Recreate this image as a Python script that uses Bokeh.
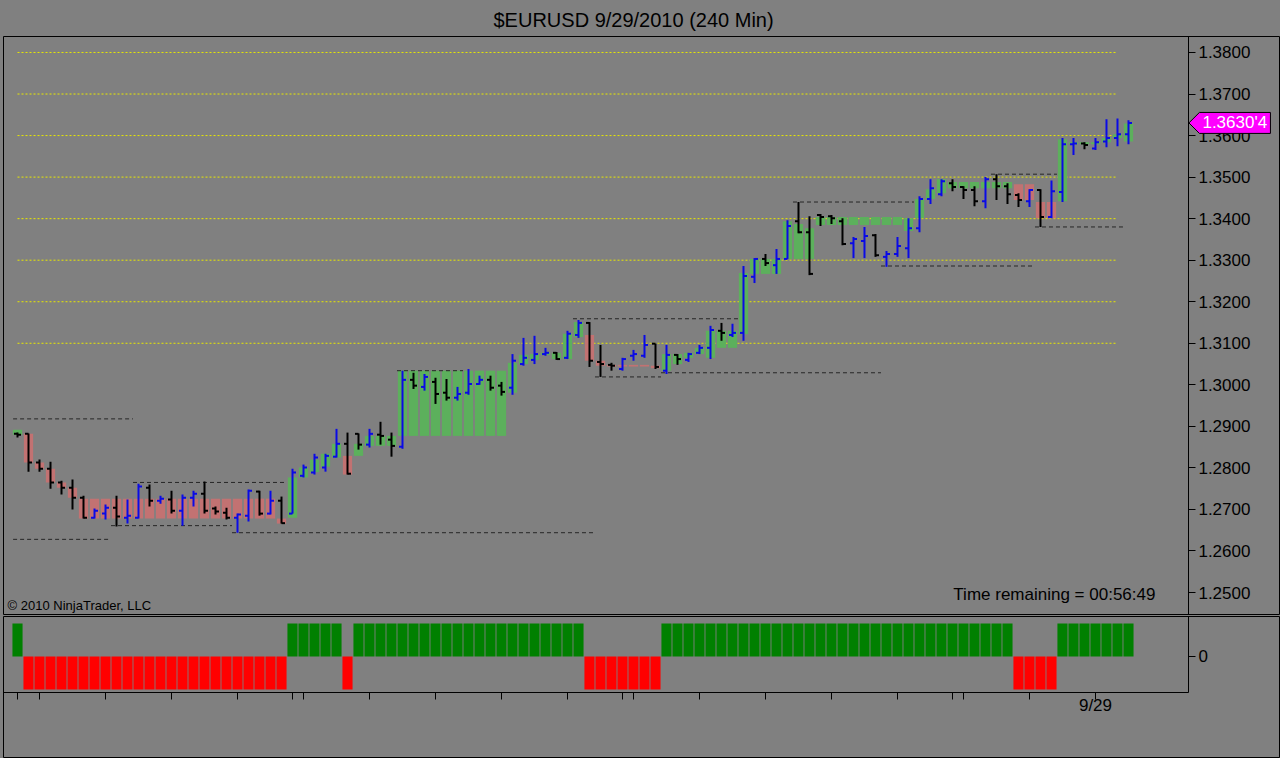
import numpy as np
from bokeh.plotting import figure
from bokeh.layouts import column
from bokeh.models import (Range1d, FixedTicker, ColumnDataSource, Label,
                          NumeralTickFormatter)
from bokeh.embed import file_html
from bokeh.resources import INLINE

# ---------------- data ----------------
title_text = "$EURUSD  9/29/2010 (240 Min)"

opens = [1.2882, 1.2882, 1.2813, 1.2798, 1.2765, 1.2752, 1.2728, 1.2680, 1.2690, 1.2704,
         1.2680, 1.2680, 1.2752, 1.2721, 1.2724, 1.2697, 1.2728, 1.2738, 1.2702, 1.2692,
         1.2680, 1.2685, 1.2743, 1.2690, 1.2721, 1.2690, 1.2781, 1.2789, 1.2801, 1.2827,
         1.2858, 1.2882, 1.2856, 1.2880, 1.2868, 1.2851, 1.3012, 1.2995, 1.3007, 1.2981,
         1.2969, 1.2981, 1.3002, 1.3012, 1.2998, 1.2993, 1.3050, 1.3060, 1.3074, 1.3077,
         1.3065, 1.3120, 1.3149, 1.3055, 1.3048, 1.3038, 1.3070, 1.3070, 1.3099, 1.3034,
         1.3072, 1.3060, 1.3077, 1.3089, 1.3130, 1.3120, 1.3125, 1.3260, 1.3303, 1.3288,
         1.3303, 1.3394, 1.3367, 1.3409, 1.3406, 1.3394, 1.3341, 1.3346, 1.3360, 1.3308,
         1.3315, 1.3329, 1.3377, 1.3447, 1.3459, 1.3485, 1.3476, 1.3469, 1.3442, 1.3495,
         1.3478, 1.3457, 1.3442, 1.3469, 1.3404, 1.3464, 1.3579, 1.3581, 1.3569, 1.3586,
         1.3594, 1.3603]
highs = [1.2885, 1.2883, 1.2820, 1.2815, 1.2769, 1.2772, 1.2733, 1.2702, 1.2712, 1.2733,
         1.2724, 1.2762, 1.2760, 1.2733, 1.2745, 1.2736, 1.2745, 1.2767, 1.2707, 1.2704,
         1.2690, 1.2748, 1.2745, 1.2745, 1.2731, 1.2798, 1.2808, 1.2834, 1.2834, 1.2894,
         1.2885, 1.2883, 1.2894, 1.2911, 1.2885, 1.3034, 1.3029, 1.3026, 1.3017, 1.3014,
         1.2995, 1.3038, 1.3022, 1.3022, 1.3007, 1.3074, 1.3113, 1.3118, 1.3089, 1.3079,
         1.3130, 1.3156, 1.3151, 1.3096, 1.3053, 1.3065, 1.3084, 1.3120, 1.3099, 1.3096,
         1.3074, 1.3077, 1.3096, 1.3142, 1.3149, 1.3147, 1.3286, 1.3305, 1.3315, 1.3327,
         1.3396, 1.3440, 1.3406, 1.3411, 1.3409, 1.3401, 1.3356, 1.3380, 1.3363, 1.3322,
         1.3356, 1.3401, 1.3454, 1.3495, 1.3495, 1.3495, 1.3478, 1.3478, 1.3500, 1.3507,
         1.3485, 1.3461, 1.3471, 1.3471, 1.3492, 1.3594, 1.3594, 1.3584, 1.3594, 1.3639,
         1.3641, 1.3637]
lows = [1.2873, 1.2791, 1.2791, 1.2750, 1.2736, 1.2700, 1.2678, 1.2678, 1.2676, 1.2659,
        1.2666, 1.2678, 1.2707, 1.2714, 1.2690, 1.2661, 1.2707, 1.2690, 1.2688, 1.2676,
        1.2644, 1.2671, 1.2685, 1.2688, 1.2666, 1.2690, 1.2777, 1.2784, 1.2791, 1.2825,
        1.2784, 1.2844, 1.2849, 1.2856, 1.2827, 1.2846, 1.2990, 1.2986, 1.2954, 1.2962,
        1.2962, 1.2976, 1.3000, 1.2986, 1.2974, 1.2976, 1.3046, 1.3050, 1.3070, 1.3060,
        1.3062, 1.3113, 1.3043, 1.3019, 1.3034, 1.3034, 1.3058, 1.3065, 1.3038, 1.3026,
        1.3048, 1.3055, 1.3074, 1.3062, 1.3106, 1.3115, 1.3106, 1.3245, 1.3286, 1.3267,
        1.3303, 1.3365, 1.3264, 1.3382, 1.3387, 1.3336, 1.3305, 1.3305, 1.3308, 1.3284,
        1.3308, 1.3305, 1.3367, 1.3435, 1.3454, 1.3466, 1.3447, 1.3430, 1.3425, 1.3445,
        1.3435, 1.3428, 1.3428, 1.3380, 1.3401, 1.3440, 1.3553, 1.3567, 1.3565, 1.3572,
        1.3574, 1.3579]
closes = [1.2880, 1.2813, 1.2798, 1.2765, 1.2752, 1.2728, 1.2680, 1.2697, 1.2704, 1.2683,
          1.2685, 1.2755, 1.2721, 1.2726, 1.2697, 1.2728, 1.2738, 1.2697, 1.2695, 1.2680,
          1.2688, 1.2745, 1.2690, 1.2721, 1.2667, 1.2789, 1.2801, 1.2825, 1.2829, 1.2858,
          1.2786, 1.2856, 1.2882, 1.2877, 1.2853, 1.3012, 1.2998, 1.3019, 1.2978, 1.2969,
          1.2978, 1.3002, 1.3012, 1.2993, 1.2983, 1.3058, 1.3065, 1.3074, 1.3077, 1.3062,
          1.3123, 1.3149, 1.3058, 1.3050, 1.3046, 1.3062, 1.3074, 1.3096, 1.3043, 1.3072,
          1.3062, 1.3074, 1.3089, 1.3132, 1.3125, 1.3125, 1.3262, 1.3303, 1.3293, 1.3303,
          1.3382, 1.3367, 1.3267, 1.3404, 1.3401, 1.3339, 1.3351, 1.3358, 1.3312, 1.3315,
          1.3334, 1.3377, 1.3447, 1.3473, 1.3490, 1.3476, 1.3469, 1.3442, 1.3495, 1.3478,
          1.3459, 1.3445, 1.3469, 1.3404, 1.3466, 1.3579, 1.3581, 1.3577, 1.3584, 1.3594,
          1.3603, 1.36304]

# trend boxes behind the bars (top / bottom price)
box_top = [1.2892, 1.2882, 1.2813, 1.2798, 1.2765, 1.2752, 1.2726, 1.2726, 1.2726, 1.2726,
           1.2726, 1.2726, 1.2726, 1.2726, 1.2726, 1.2726, 1.2726, 1.2726, 1.2726, 1.2726,
           1.2726, 1.2726, 1.2726, 1.2726, 1.2678, 1.2777, 1.2801, 1.2820, 1.2834, 1.2858,
           1.2829, 1.2858, 1.2877, 1.2877, 1.2877, 1.3034, 1.3034, 1.3034, 1.3034, 1.3034,
           1.3034, 1.3034, 1.3034, 1.3034, 1.3034, 1.3053, 1.3072, 1.3074, 1.3077, 1.3077,
           1.3123, 1.3151, 1.3120, 1.3058, 1.3048, 1.3048, 1.3048, 1.3048, 1.3046, 1.3074,
           1.3074, 1.3077, 1.3089, 1.3130, 1.3130, 1.3130, 1.3269, 1.3303, 1.3303, 1.3303,
           1.3394, 1.3387, 1.3377, 1.3404, 1.3404, 1.3404, 1.3404, 1.3404, 1.3404, 1.3404,
           1.3404, 1.3401, 1.3447, 1.3471, 1.3495, 1.3488, 1.3488, 1.3488, 1.3488, 1.3488,
           1.3488, 1.3483, 1.3483, 1.3440, 1.3440, 1.3591, 1.3584, 1.3584, 1.3584, 1.3594,
           1.3603, 1.3629]
box_bot = [1.2880, 1.2813, 1.2798, 1.2765, 1.2752, 1.2728, 1.2678, 1.2678, 1.2678, 1.2678,
           1.2678, 1.2678, 1.2678, 1.2678, 1.2678, 1.2678, 1.2678, 1.2678, 1.2678, 1.2678,
           1.2678, 1.2678, 1.2678, 1.2678, 1.2666, 1.2680, 1.2777, 1.2790, 1.2803, 1.2825,
           1.2784, 1.2829, 1.2853, 1.2853, 1.2853, 1.2877, 1.2877, 1.2877, 1.2877, 1.2877,
           1.2877, 1.2877, 1.2877, 1.2877, 1.2877, 1.2981, 1.3050, 1.3060, 1.3072, 1.3062,
           1.3062, 1.3115, 1.3058, 1.3046, 1.3044, 1.3044, 1.3044, 1.3044, 1.3040, 1.3034,
           1.3050, 1.3065, 1.3074, 1.3065, 1.3089, 1.3089, 1.3122, 1.3267, 1.3267, 1.3267,
           1.3303, 1.3303, 1.3303, 1.3385, 1.3385, 1.3385, 1.3385, 1.3385, 1.3385, 1.3385,
           1.3385, 1.3370, 1.3401, 1.3447, 1.3461, 1.3473, 1.3473, 1.3473, 1.3473, 1.3473,
           1.3473, 1.3445, 1.3445, 1.3401, 1.3401, 1.3442, 1.3579, 1.3579, 1.3579, 1.3584,
           1.3594, 1.3586]

# lower-panel trend signal (+1 green / -1 red)
signal = [1, -1, -1, -1, -1, -1, -1, -1, -1, -1,
          -1, -1, -1, -1, -1, -1, -1, -1, -1, -1,
          -1, -1, -1, -1, -1, 1, 1, 1, 1, 1,
          -1, 1, 1, 1, 1, 1, 1, 1, 1, 1,
          1, 1, 1, 1, 1, 1, 1, 1, 1, 1,
          1, 1, -1, -1, -1, -1, -1, -1, -1, 1,
          1, 1, 1, 1, 1, 1, 1, 1, 1, 1,
          1, 1, 1, 1, 1, 1, 1, 1, 1, 1,
          1, 1, 1, 1, 1, 1, 1, 1, 1, 1,
          1, -1, -1, -1, -1, 1, 1, 1, 1, 1,
          1, 1]

# dashed support / resistance lines: price, first bar, last bar
sr_price = [1.2918, 1.2628, 1.2765, 1.2661, 1.2644, 1.3034, 1.3159, 1.3019, 1.3029,
            1.3440, 1.3286, 1.3507, 1.3380]
sr_start = [-0.4, -0.4, 10.5, 8.5, 19.5, 34.5, 50.5, 52.5, 58.5, 70.5, 78.5, 88.5, 92.5]
sr_end = [10.5, 8.5, 24.5, 19.5, 52.5, 40.5, 65.5, 58.5, 78.5, 81.5, 92.5, 94.5, 100.5]

# yellow dotted horizontal levels
levels = [1.31, 1.32, 1.33, 1.34, 1.35, 1.36, 1.37, 1.38]
level_first_bar = 0
level_last_bar = 100

price_ticks = [1.25, 1.26, 1.27, 1.28, 1.29, 1.30, 1.31, 1.32, 1.33, 1.34, 1.35,
               1.36, 1.37, 1.38]
time_ticks = [0, 2, 8, 14, 20, 25, 26, 32, 38, 44, 50, 55, 56, 62, 68, 74, 80, 85, 86,
              92, 98]
time_labels = {98: "9/29"}
last_price_text = "1.3630'4"
copyright_text = "\u00a9 2010 NinjaTrader, LLC"
time_remaining_text = "Time remaining = 00:56:49"

# ---------------- styling / geometry ----------------
BG = "#808080"
FONT = "Liberation Sans"
PX_PER_BAR = 11.0
n = len(closes)
idx = np.arange(n)

bar_col = ["#0a0ae6" if c > o else "#000000" for o, c in zip(opens, closes)]
box_col = ["#5cb05c" if s > 0 else "#c27272" for s in signal]
sig_col = ["#008000" if s > 0 else "#ff0000" for s in signal]

src = ColumnDataSource(dict(x=idx, o=opens, h=highs, l=lows, c=closes,
                            bt=box_top, bb=box_bot, col=bar_col, bcol=box_col,
                            xl=idx - 0.42, xr=idx + 0.42,
                            xo=idx - 0.32, xc=idx + 0.32))

# the frame spans the full width; the price axis is pinned at axis_x
axis_x = 106.45
x_range = Range1d(-1.273, 114.82)
y0, y1 = 1.244471, 1.383845
FRAME_H = 580

p = figure(width=1280, height=615, x_range=x_range, y_range=Range1d(y0, y1),
           output_backend="svg", toolbar_location=None,
           y_axis_location="right", x_axis_location=None,
           min_border_left=3, min_border_right=0, min_border_top=35,
           min_border_bottom=0,
           background_fill_color=BG, border_fill_color=BG,
           outline_line_color="black", outline_line_width=1)
p.xgrid.visible = False
p.ygrid.visible = False
p.title.text = title_text
p.title.align = "left"
p.title.offset = 490
p.title.standoff = 12
p.title.text_font = FONT
p.title.text_font_size = "20px"
p.title.text_font_style = "normal"
p.title.text_color = "black"

ax = p.yaxis[0]
ax.fixed_location = axis_x
ax.ticker = FixedTicker(ticks=price_ticks)
ax.formatter = NumeralTickFormatter(format="0.0000")
ax.major_tick_out = 7
ax.major_tick_in = 0
ax.minor_tick_line_color = None
ax.axis_line_color = "black"
ax.major_tick_line_color = "black"
ax.major_label_text_font = FONT
ax.major_label_text_font_size = "17px"
ax.major_label_text_color = "black"
ax.major_label_standoff = 3

# yellow dotted levels
p.segment(x0=[level_first_bar] * len(levels), x1=[level_last_bar] * len(levels),
          y0=levels, y1=levels, line_color="#e8e800", line_width=1,
          line_dash="2 2")

# trend boxes
p.quad(left="xl", right="xr", top="bt", bottom="bb", fill_color="bcol",
       line_color=None, source=src)

# support / resistance dashed lines
p.segment(x0=sr_start, x1=sr_end, y0=sr_price, y1=sr_price,
          line_color="#262626", line_width=1, line_dash="4 3")

# OHLC bars
p.segment(x0="x", x1="x", y0="l", y1="h", line_color="col", line_width=2, source=src)
p.segment(x0="xo", x1="x", y0="o", y1="o", line_color="col", line_width=2, source=src)
p.segment(x0="x", x1="xc", y0="c", y1="c", line_color="col", line_width=2, source=src)

p.add_layout(Label(x=-0.9, y=1.2469, text=copyright_text, text_font=FONT,
                   text_font_size="13px", text_color="black",
                   text_baseline="alphabetic"))
p.add_layout(Label(x=103.45, y=1.2495, text=time_remaining_text, text_font=FONT,
                   text_font_size="17px", text_color="black", text_align="right",
                   text_baseline="alphabetic"))

# last price marker (pointing at the axis, drawn over the axis labels)
px = (y1 - y0) / FRAME_H
last = closes[-1]
half = 10.5 * px
mx = [axis_x + 0.5 / PX_PER_BAR, axis_x + 11 / PX_PER_BAR, axis_x + 82 / PX_PER_BAR,
      axis_x + 82 / PX_PER_BAR, axis_x + 11 / PX_PER_BAR]
my = [last, last + half, last + half, last - half, last - half]
p.patch(mx, my, fill_color="#ff00ff", line_color="black", line_width=1,
        level="annotation")
p.add_layout(Label(x=axis_x + 14 / PX_PER_BAR, y=last, text=last_price_text,
                   text_font=FONT, text_font_size="17px", text_color="white",
                   text_baseline="middle", level="overlay"))

# ---------------- lower panel ----------------
sig_lo, sig_hi = -1.0909, 1.2121       # visible signal band (axis line at sig_lo)
sig_px = 33.0                          # pixels per signal unit
p2 = figure(width=1280, height=143, x_range=x_range,
            y_range=Range1d(sig_lo - 65 / sig_px, sig_hi),
            output_backend="svg", toolbar_location=None, y_axis_location="right",
            min_border_left=3, min_border_right=0, min_border_top=1,
            min_border_bottom=1,
            background_fill_color=BG, border_fill_color=BG,
            outline_line_color="black", outline_line_width=1)
p2.xgrid.visible = False
p2.ygrid.visible = False
p2.vbar(x=idx, top=signal, bottom=0, width=0.92, fill_color=sig_col, line_color=None)

ay = p2.yaxis[0]
ay.fixed_location = axis_x
ay.bounds = (sig_lo, sig_hi)
ay.ticker = FixedTicker(ticks=[0])
ay.major_tick_out = 7
ay.major_tick_in = 0
ay.minor_tick_line_color = None
ay.axis_line_color = "black"
ay.major_label_text_font = FONT
ay.major_label_text_font_size = "17px"
ay.major_label_text_color = "black"
ay.major_label_standoff = 3

axx = p2.xaxis[0]
axx.fixed_location = sig_lo
axx.bounds = (x_range.start, axis_x)
axx.ticker = FixedTicker(ticks=time_ticks)
axx.major_label_overrides = {t: time_labels.get(t, "") for t in time_ticks}
axx.major_tick_out = 7
axx.major_tick_in = 0
axx.minor_tick_line_color = None
axx.axis_line_color = "black"
axx.major_tick_line_color = "black"
axx.major_label_text_font = FONT
axx.major_label_text_font_size = "17px"
axx.major_label_text_color = "black"
axx.major_label_standoff = -3

layout = column(p, p2, spacing=0)
try:
    from bokeh.models import GlobalInlineStyleSheet
    layout.stylesheets = [GlobalInlineStyleSheet(css="html, body { background: #808080; }")]
except Exception:
    pass

open("out.html", "w").write(file_html(layout, INLINE))
